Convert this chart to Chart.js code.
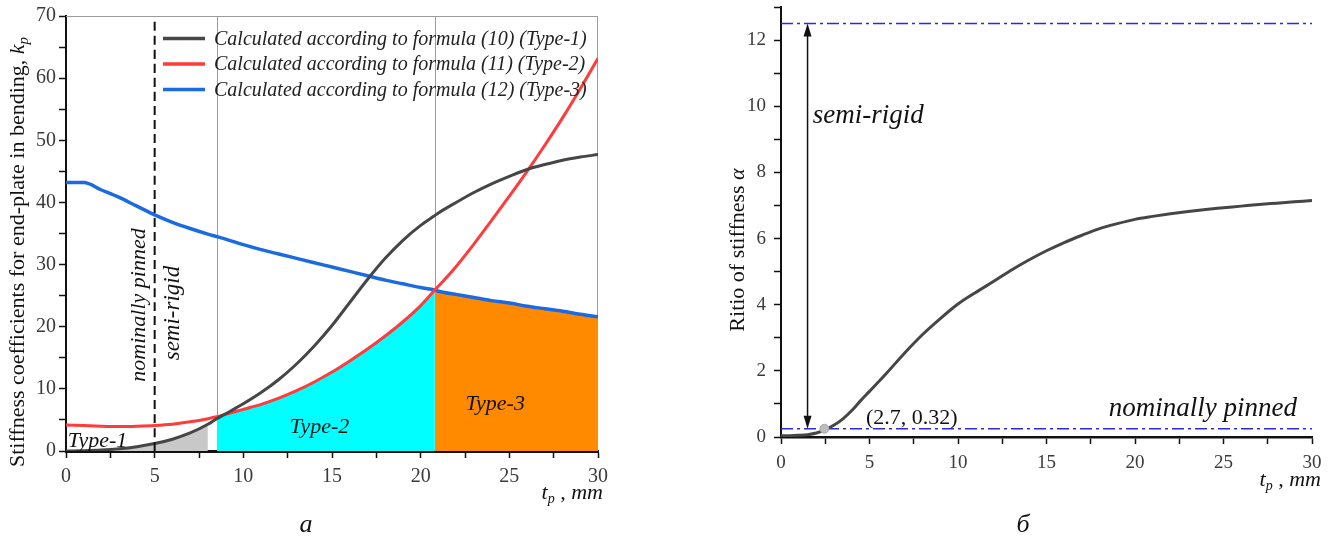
<!DOCTYPE html>
<html>
<head>
<meta charset="utf-8">
<script src="https://cdn.jsdelivr.net/npm/chart.js@4.4.1/dist/chart.umd.min.js"></script>
<style>
    html, body { margin: 0; padding: 0; background: #fff; width: 1337px; height: 537px; overflow: hidden; position: relative; }
    canvas { position: absolute; top: -30px; }
    #left-chart { left: 0; }
    #right-chart { left: 680px; }
</style>
</head>
<body>
<canvas id="left-chart" width="660" height="567"></canvas>
<canvas id="right-chart" width="657" height="567"></canvas>
<script>
// --- chart a: stiffness coefficients k_p vs t_p ---
const tp = [0, 1, 2, 3, 4, 5, 6, 7, 8, 8.5, 9, 10, 11, 12, 13, 14, 15, 16, 17, 18, 19, 20, 20.8, 21, 22, 23, 24, 25, 26, 27, 28, 29, 30];
const type1 = [0, 0.05, 0.15, 0.35, 0.7, 1.2, 1.9, 2.9, 4.3, 5.2, 6.0, 7.6, 9.4, 11.5, 14.0, 16.9, 20.2, 23.9, 27.6, 31.0, 33.9, 36.3, 37.9, 38.3, 40.0, 41.6, 43.0, 44.2, 45.3, 46.1, 46.8, 47.3, 47.7];
const type2 = [4.2, 4.1, 4.0, 3.95, 4.0, 4.1, 4.3, 4.7, 5.2, 5.5, 5.9, 6.7, 7.5, 8.5, 9.7, 11.1, 12.7, 14.5, 16.4, 18.5, 20.8, 23.4, 25.9, 26.5, 29.7, 33.3, 37.1, 41.0, 45.0, 49.2, 53.6, 58.3, 63.2];
const type3 = [43.2, 43.2, 42.0, 40.8, 39.4, 38.0, 36.8, 35.8, 34.9, 34.5, 34.1, 33.2, 32.4, 31.7, 31.0, 30.3, 29.6, 28.9, 28.2, 27.5, 26.9, 26.3, 25.9, 25.7, 25.2, 24.7, 24.2, 23.8, 23.3, 22.9, 22.5, 22.0, 21.6];
const zoneStart = [0, 8.5, 20.8];
const zoneEnd = [8, 20.8, 30];
const zoneLines = [8.5, 20.8];
const pinnedLimit = 5;
const legendLabels = [
    'Calculated according to formula (10) (Type-1)',
    'Calculated according to formula (11) (Type-2)',
    'Calculated according to formula (12) (Type-3)'
];

// --- chart б: ratio of stiffness alpha vs t_p ---
const tpRatio = [0, 0.5, 1, 1.5, 2, 2.5, 3, 3.5, 4, 4.5, 5, 6, 7, 8, 9, 10, 11, 12, 13, 14, 15, 16, 17, 18, 19, 20, 21, 22, 23, 24, 25, 26, 27, 28, 29, 30];
const alpha = [0.04, 0.04, 0.05, 0.07, 0.12, 0.22, 0.36, 0.55, 0.8, 1.1, 1.38, 1.95, 2.55, 3.1, 3.58, 4.02, 4.37, 4.7, 5.04, 5.35, 5.63, 5.88, 6.1, 6.3, 6.45, 6.58, 6.67, 6.75, 6.82, 6.88, 6.93, 6.98, 7.03, 7.07, 7.11, 7.15];
const rigidLimit = 12.5;
const pinnedAlpha = 0.25;
const markPoint = [2.45, 0.25];
const arrowAt = 1.5;

const SERIF = "'Liberation Serif', 'DejaVu Serif', serif";
const colors = { type1: '#464646', type2: '#ff3b3b', type3: '#1c6ae2', fill1: '#c8c8c8', fill2: '#00ffff', fill3: '#ff8a00', limit: '#2a2ae6' };

function points(xs, ys, from = -Infinity, to = Infinity) {
    return xs.map((x, i) => ({ x, y: ys[i] })).filter(p => p.x >= from && p.x <= to);
}

// draws a run of text pieces with differing fonts, aligned around (0,0)
function drawRich(ctx, parts, align = 'center') {
    let width = 0;
    parts.forEach(p => { ctx.font = p.font; width += ctx.measureText(p.text).width; });
    let x = align === 'center' ? -width / 2 : align === 'right' ? -width : 0;
    parts.forEach(p => {
        ctx.font = p.font;
        ctx.fillText(p.text, x, p.dy || 0);
        x += ctx.measureText(p.text).width;
    });
}

function label(chart, text, xv, yv, font, align = 'left', rotate = false) {
    const { ctx, scales } = chart;
    ctx.save();
    ctx.translate(scales.x.getPixelForValue(xv), scales.y.getPixelForValue(yv));
    if (rotate) ctx.rotate(-Math.PI / 2);
    ctx.font = font;
    ctx.fillStyle = '#111';
    ctx.textAlign = align;
    ctx.textBaseline = 'alphabetic';
    ctx.fillText(text, 0, 0);
    ctx.restore();
}

function axisOptions(min, max, step, every, width, tickPad, fontSize) {
    return {
        type: 'linear',
        min, max,
        ticks: {
            stepSize: step,
            autoSkip: false,
            maxRotation: 0,
            padding: tickPad,
            color: '#3a3a3a',
            font: { family: SERIF, size: fontSize },
            callback: v => (Math.abs(v % every) < 1e-6 ? v : '')
        },
        grid: { drawOnChartArea: false, drawTicks: true, tickLength: 7, tickColor: '#111', tickWidth: 1.5 },
        border: { color: '#111', width }
    };
}

function axisTitle(ctx, x, y, parts, align, rotate) {
    ctx.save();
    ctx.fillStyle = '#111';
    ctx.textBaseline = 'middle';
    ctx.translate(x, y);
    if (rotate) ctx.rotate(-Math.PI / 2);
    drawRich(ctx, parts, align);
    ctx.restore();
}

function caption(ctx, text, x, y) {
    ctx.save();
    ctx.fillStyle = '#111';
    ctx.textBaseline = 'middle';
    ctx.textAlign = 'center';
    ctx.font = `italic 26px ${SERIF}`;
    ctx.fillText(text, x, y);
    ctx.restore();
}

const tpTitle = [
    { text: 't', font: `italic 22px ${SERIF}` },
    { text: 'p', font: `italic 14px ${SERIF}`, dy: 6 },
    { text: ' , mm', font: `italic 22px ${SERIF}` }
];

const leftDecor = {
    id: 'leftDecor',
    beforeDatasetsDraw(chart) {
        const { ctx, chartArea: a, scales: { x } } = chart;
        ctx.save();
        ctx.strokeStyle = '#9c9c9c';
        ctx.lineWidth = 1;
        ctx.beginPath();
        ctx.moveTo(a.left, a.top + 0.5);
        ctx.lineTo(a.right, a.top + 0.5);
        ctx.moveTo(a.right - 0.5, a.top);
        ctx.lineTo(a.right - 0.5, a.bottom);
        zoneLines.forEach(v => {
            const px = Math.round(x.getPixelForValue(v)) + 0.5;
            ctx.moveTo(px, a.top);
            ctx.lineTo(px, a.bottom);
        });
        ctx.stroke();
        ctx.restore();
    },
    afterDatasetsDraw(chart) {
        const { ctx, chartArea: a } = chart;
        const it = size => `italic ${size}px ${SERIF}`;
        label(chart, 'Type-1', 0.1, 0.65, it(22));
        label(chart, 'Type-2', 14.3, 2.9, it(22), 'center');
        label(chart, 'Type-3', 24.2, 6.6, it(22), 'center');
        label(chart, 'nominally pinned', 4.45, 23.5, it(22), 'center', true);
        label(chart, 'semi-rigid', 6.4, 22.2, it(23), 'center', true);

        // legend
        const lineColors = [colors.type1, colors.type2, colors.type3];
        ctx.save();
        legendLabels.forEach((text, i) => {
            const y = a.top + 22.5 + i * 25.5;
            ctx.strokeStyle = lineColors[i];
            ctx.lineWidth = 3.5;
            ctx.beginPath();
            ctx.moveTo(a.left + 97, y);
            ctx.lineTo(a.left + 139, y);
            ctx.stroke();
            ctx.fillStyle = '#222';
            ctx.font = it(20);
            ctx.textBaseline = 'middle';
            ctx.fillText(text, a.left + 148, y + 1);
        });
        ctx.restore();
    },
    afterDraw(chart) {
        const { ctx } = chart;
        axisTitle(ctx, 18, 282, [
            { text: 'Stiffness coefficients for end-plate in bending, ', font: `22px ${SERIF}` },
            { text: 'k', font: `italic 22px ${SERIF}` },
            { text: 'p', font: `italic 15px ${SERIF}`, dy: 6 }
        ], 'center', true);
        axisTitle(ctx, 603, 523, tpTitle, 'right', false);
        caption(ctx, 'a', 306, 555);
    }
};

const rightDecor = {
    id: 'rightDecor',
    afterDatasetsDraw(chart) {
        const { ctx, scales: { x, y } } = chart;
        const px = x.getPixelForValue(arrowAt);
        const top = y.getPixelForValue(rigidLimit);
        const bottom = y.getPixelForValue(pinnedAlpha);
        ctx.save();
        ctx.strokeStyle = '#111';
        ctx.fillStyle = '#111';
        ctx.lineWidth = 1.5;
        ctx.beginPath();
        ctx.moveTo(px, top + 10);
        ctx.lineTo(px, bottom - 10);
        ctx.stroke();
        [[top, 1], [bottom, -1]].forEach(([tip, dir]) => {
            ctx.beginPath();
            ctx.moveTo(px, tip);
            ctx.lineTo(px - 4, tip + dir * 13);
            ctx.lineTo(px + 4, tip + dir * 13);
            ctx.closePath();
            ctx.fill();
        });
        ctx.restore();

        label(chart, 'semi-rigid', 1.8, 9.5, `italic 27px ${SERIF}`);
        label(chart, 'nominally pinned', 29.15, 0.63, `italic 27px ${SERIF}`, 'right');
        label(chart, '(2.7, 0.32)', 4.8, 0.39, `22px ${SERIF}`);
    },
    afterDraw(chart) {
        const { ctx } = chart;
        axisTitle(ctx, 58, 280, [
            { text: 'Ritio of stiffness ', font: `22px ${SERIF}` },
            { text: 'α', font: `italic 22px ${SERIF}` }
        ], 'center', true);
        axisTitle(ctx, 641, 510, tpTitle, 'right', false);
        caption(ctx, 'б', 343, 555);
    }
};

const lineBase = { pointRadius: 0, cubicInterpolationMode: 'monotone', fill: false };
const fillBase = { pointRadius: 0, cubicInterpolationMode: 'monotone', fill: 'origin', borderWidth: 0, borderColor: 'transparent', order: 5 };

new Chart(document.getElementById('left-chart'), {
    type: 'line',
    data: {
        datasets: [
            { ...lineBase, data: points(tp, type1), borderColor: colors.type1, borderWidth: 3, order: 1 },
            { ...lineBase, data: points(tp, type2), borderColor: colors.type2, borderWidth: 3, order: 2 },
            { ...lineBase, data: points(tp, type3), borderColor: colors.type3, borderWidth: 3.5, order: 3 },
            { ...lineBase, data: [{ x: pinnedLimit, y: 0 }, { x: pinnedLimit, y: 69.5 }], borderColor: '#111', borderWidth: 2, borderDash: [9, 5], order: 0 },
            { ...fillBase, data: points(tp, type1, zoneStart[0], zoneEnd[0]), backgroundColor: colors.fill1 },
            { ...fillBase, data: points(tp, type2, zoneStart[1], zoneEnd[1]), backgroundColor: colors.fill2 },
            { ...fillBase, data: points(tp, type3, zoneStart[2], zoneEnd[2]), backgroundColor: colors.fill3 }
        ]
    },
    options: {
        responsive: false,
        animation: false,
        devicePixelRatio: 1,
        layout: { padding: { top: 46, right: 62, left: 0, bottom: 0 } },
        plugins: { legend: { display: false }, tooltip: { enabled: false } },
        scales: {
            x: { ...axisOptions(0, 30, 2.5, 5, 3, 7, 20), afterFit(scale) { scale.height = 86; } },
            y: { ...axisOptions(0, 70, 5, 10, 2, 3, 20), afterFit(scale) { scale.width = 66; } }
        }
    },
    plugins: [leftDecor]
});

new Chart(document.getElementById('right-chart'), {
    type: 'line',
    data: {
        datasets: [
            { type: 'scatter', data: [{ x: markPoint[0], y: markPoint[1] }], pointRadius: 4.5, pointBackgroundColor: '#bdbdbd', pointBorderColor: '#a8a8a8', order: 0 },
            { ...lineBase, data: points(tpRatio, alpha), borderColor: colors.type1, borderWidth: 3, order: 1 },
            { ...lineBase, data: [{ x: 0, y: rigidLimit }, { x: 30, y: rigidLimit }], borderColor: colors.limit, borderWidth: 1.5, borderDash: [12, 4, 3, 4], order: 2 },
            { ...lineBase, data: [{ x: 0, y: pinnedAlpha }, { x: 30, y: pinnedAlpha }], borderColor: colors.limit, borderWidth: 1.5, borderDash: [12, 4, 3, 4], order: 2 }
        ]
    },
    options: {
        responsive: false,
        animation: false,
        devicePixelRatio: 1,
        layout: { padding: { top: 37, right: 25, left: 0, bottom: 0 } },
        plugins: { legend: { display: false }, tooltip: { enabled: false } },
        scales: {
            x: { ...axisOptions(0, 30, 2.5, 5, 2.5, 8, 19), afterFit(scale) { scale.height = 100; } },
            y: { ...axisOptions(0, 13, 1, 2, 2, 8, 19), afterFit(scale) { scale.width = 101; } }
        }
    },
    plugins: [rightDecor]
});
</script>
</body>
</html>
